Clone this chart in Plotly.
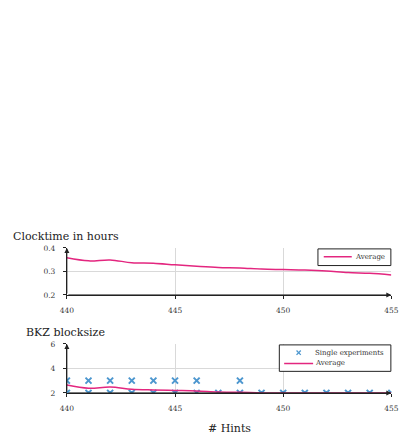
import plotly.graph_objects as go

# Number of hints given to the attack
hints = list(range(440, 456))

# Average clock time (hours)
clock_avg = [0.358, 0.345, 0.349, 0.337, 0.335, 0.328, 0.322, 0.317,
             0.315, 0.310, 0.308, 0.306, 0.302, 0.295, 0.292, 0.285]

# Individual BKZ block sizes observed per hint count
single_x = hints + [440, 441, 442, 443, 444, 445, 446, 448]
single_y = [2] * len(hints) + [3] * 8

# Average BKZ block size
bkz_avg = [2.64, 2.38, 2.48, 2.30, 2.24, 2.20, 2.16, 2.08,
           2.05, 2.0, 2.0, 2.0, 2.0, 2.0, 2.0, 2.0]

x_ticks = [440, 445, 450, 455]
clock_ticks = [0.2, 0.3, 0.4]
bkz_ticks = [2, 4, 6]

PINK = "#e3267f"
BLUE = "#4d97cf"
FONT = "DejaVu Serif"
INK = "#222"

W, H = 408, 441


def px(x):
    return x / W


def py(y):
    return 1 - y / H


x0, x1 = px(62), px(398)
top_dom = [py(297), py(249)]
bot_dom = [py(397), py(347)]

fig = go.Figure()

fig.add_trace(go.Scatter(
    x=hints, y=clock_avg, mode="lines", name="Average",
    line=dict(color=PINK, width=1.5, shape="spline"),
    xaxis="x", yaxis="y",
))
fig.add_trace(go.Scatter(
    x=single_x, y=single_y, mode="markers", name="Single experiments",
    marker=dict(symbol="x-thin", size=6, line=dict(color=BLUE, width=2), color=BLUE),
    xaxis="x2", yaxis="y2",
))
fig.add_trace(go.Scatter(
    x=hints, y=bkz_avg, mode="lines", name="Average",
    line=dict(color=PINK, width=1.5, shape="spline"),
    xaxis="x2", yaxis="y2",
))

xr = [x_ticks[0], x_ticks[-1]]
tickfont = dict(family=FONT, size=7.5, color="#333")
common_x = dict(
    range=xr, tickvals=x_ticks, showgrid=True, gridcolor="#d9d9d9",
    gridwidth=1, showline=True, linecolor=INK, linewidth=1, ticks="outside",
    ticklen=3, tickcolor=INK, zeroline=False, tickfont=tickfont,
    ticklabelstandoff=5,
)
common_y = dict(
    showgrid=True, gridcolor="#d9d9d9", gridwidth=1, showline=True,
    linecolor=INK, linewidth=1, ticks="outside", ticklen=3, tickcolor=INK,
    zeroline=False, tickfont=tickfont, ticklabelstandoff=6,
)

fig.update_layout(
    width=W, height=H, margin=dict(l=0, r=0, t=0, b=0),
    paper_bgcolor="white", plot_bgcolor="white", showlegend=False,
    xaxis=dict(domain=[x0, x1], anchor="y", **common_x),
    yaxis=dict(domain=top_dom, anchor="x", range=[clock_ticks[0], clock_ticks[-1]],
               tickvals=clock_ticks, ticktext=[f"{v:.1f}" for v in clock_ticks],
               **common_y),
    xaxis2=dict(domain=[x0, x1], anchor="y2", layer="below traces", **common_x),
    yaxis2=dict(domain=bot_dom, anchor="x2", range=[bkz_ticks[0], bkz_ticks[-1]],
                tickvals=bkz_ticks, layer="below traces", **common_y),
)

# Axis arrows
for xa, ya, yr in [("x", "y", clock_ticks), ("x2", "y2", bkz_ticks)]:
    fig.add_annotation(x=xr[0], y=yr[-1], ax=xr[0], ay=yr[0], xref=xa, yref=ya,
                       axref=xa, ayref=ya, showarrow=True, arrowhead=2,
                       arrowsize=1, arrowwidth=1, arrowcolor=INK, text="")
    fig.add_annotation(x=xr[1], y=yr[0], ax=xr[0], ay=yr[0], xref=xa, yref=ya,
                       axref=xa, ayref=ya, showarrow=True, arrowhead=2,
                       arrowsize=1, arrowwidth=1, arrowcolor=INK, text="")

# Panel titles and x-axis title
title_font = dict(family=FONT, size=11, color=INK)
fig.add_annotation(text="Clocktime in hours", xref="paper", yref="paper",
                   x=px(5), y=py(237), xanchor="left", yanchor="middle",
                   showarrow=False, font=title_font, borderpad=0)
fig.add_annotation(text="BKZ blocksize", xref="paper", yref="paper",
                   x=px(19), y=py(335), xanchor="left", yanchor="middle",
                   showarrow=False, font=title_font, borderpad=0)
fig.add_annotation(text="# Hints", xref="paper", yref="paper",
                   x=px(230), y=py(433), xanchor="center", yanchor="middle",
                   showarrow=False, font=title_font, borderpad=0)

# Legends drawn as boxed keys
leg_font = dict(family=FONT, size=7, color="#333")


def box(xa, ya, xb, yb):
    fig.add_shape(type="rect", xref="paper", yref="paper", x0=px(xa), x1=px(xb),
                  y0=py(yb), y1=py(ya), line=dict(color=INK, width=1),
                  fillcolor="white", layer="above")


def key_line(xa, xb, y):
    fig.add_shape(type="line", xref="paper", yref="paper", x0=px(xa), x1=px(xb),
                  y0=py(y), y1=py(y), line=dict(color=PINK, width=1.5), layer="above")


def key_text(text, x, y):
    fig.add_annotation(text=text, xref="paper", yref="paper", x=px(x), y=py(y),
                       xanchor="left", yanchor="middle", showarrow=False,
                       font=leg_font, borderpad=0)


box(322, 250, 397.5, 267)
key_line(328, 357, 258)
key_text("Average", 359, 258)

box(282, 348, 397.5, 375)
for dx, dy in [(1, 1), (1, -1)]:
    fig.add_shape(type="line", xref="paper", yref="paper",
                  x0=px(302 - 2.2 * dx), x1=px(302 + 2.2 * dx),
                  y0=py(356 - 2.2 * dy), y1=py(356 + 2.2 * dy),
                  line=dict(color=BLUE, width=1.3), layer="above")
key_text("Single experiments", 318, 356)
key_line(287, 317, 367)
key_text("Average", 318, 366.5)

fig.write_html("out.html")
